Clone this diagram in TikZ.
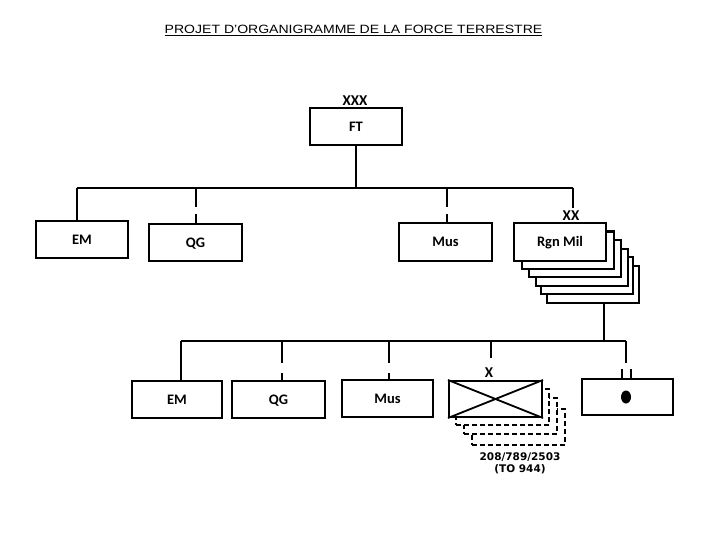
\documentclass[tikz,border=0pt]{standalone}
\usepackage{fontspec}
\setmainfont{Carlito}
\newfontfamily\titlefont{Liberation Sans}
\newfontfamily\smallfont{DejaVu Sans}
\usetikzlibrary{shapes.geometric}
\begin{document}
\begin{tikzpicture}[x=1pt,y=-1pt,
  unit/.style={draw, line width=2pt, fill=white, minimum width=92pt, minimum height=37pt, inner sep=0pt, text height=9.5pt, text depth=0pt, font=\bfseries\fontsize{14.5}{16}\selectfont},
  ghost/.style={unit, dash pattern=on 5pt off 3pt},
  conn/.style={line width=2pt},
  echelon/.style={inner sep=0pt, font=\bfseries\fontsize{15}{17}\selectfont},
  dot/.style={ellipse, fill=black, minimum width=10pt, minimum height=13pt, inner sep=0pt}
]
\useasboundingbox (0,0) rectangle (720,540);
% title
\node[inner sep=0pt, anchor=base] (title) at (353.5,34) {\titlefont\fontsize{12}{14}\selectfont\scalebox{1.17}[1]{\underline{PROJET D’ORGANIGRAMME DE LA FORCE TERRESTRE}}};

% top
\node[unit] (ft) at (356,126.5) {FT};
\node[echelon] (ftlab) at (355,101) {XXX};

% bus 1
\coordinate (b1L) at (77,188);
\coordinate (b1R) at (573,188);
\coordinate (b1QG) at (196,188);
\coordinate (b1Mus) at (447,188);
\coordinate (b1Rend) at (573,208);
\draw[conn] (ft.south) -- (ft.south |- b1L);
\draw[conn] (b1L) -- (b1R);

% level 1 boxes
\node[unit] (em) at (82,239.5) {EM};
\node[unit, minimum width=93pt] (qg) at (195.5,242.5) {QG};
\node[unit, minimum width=93pt, minimum height=38pt] (mus) at (445.5,242) {Mus};

% Rgn Mil stack
\node[unit] (rgn5) at (592.5,284) {};
\node[unit] (rgn4) at (587,275) {};
\node[unit] (rgn3) at (581.5,267) {};
\node[unit] (rgn2) at (575,258) {};
\node[unit] (rgn1) at (567.5,250) {};
\node[unit, minimum height=38pt] (rgn) at (560,242) {Rgn Mil};
\node[echelon] (rgnlab) at (571,216) {XX};

\draw[conn] (b1L) -- (b1L |- em.north);
\draw[conn, dash pattern=on 19pt off 7pt on 40pt] (b1QG) -- (b1QG |- qg.north);
\draw[conn, dash pattern=on 19pt off 7pt on 40pt] (b1Mus) -- (b1Mus |- mus.north);
\draw[conn] (b1R) -- (b1Rend);

% bus 2
\coordinate (j2) at (604,341);
\coordinate (b2L) at (181,341);
\coordinate (b2R) at (626,341);
\coordinate (b2QG) at (282,341);
\coordinate (b2Mus) at (389,341);
\coordinate (b2X) at (491,341);
\coordinate (b2Xend) at (491,358);
\coordinate (b2Rend) at (626,363);
\coordinate (dl) at (622,369);
\coordinate (dr) at (631,369);
\draw[conn] (j2 |- rgn5.south) -- (j2);
\draw[conn] (b2L) -- (b2R);

% level 2 boxes
\node[unit, minimum width=90pt] (em2) at (177,399.5) {EM};
\node[unit, minimum width=93pt] (qg2) at (278.5,399.5) {QG};
\node[unit, minimum width=91pt] (mus2) at (387.5,398.5) {Mus};

% brigade stack
\node[ghost, minimum width=93pt, minimum height=36pt] (x3) at (518,426.5) {};
\node[ghost, minimum width=93pt, minimum height=36pt] (x2) at (510.5,415.5) {};
\node[ghost, minimum width=93pt, minimum height=36pt] (x1) at (502.5,407) {};
\node[unit, minimum width=93pt, minimum height=36pt] (xb) at (495.5,399) {};
\draw[line width=1.8pt] (xb.north west) -- (xb.south east);
\draw[line width=1.8pt] (xb.south west) -- (xb.north east);
\node[echelon] (xlab) at (489,373) {X};
\node[inner sep=0pt, align=center, font=\smallfont\bfseries\fontsize{10.5}{12}\selectfont] (xnote) at (520,463) {208/789/2503\\(TO 944)};

% dot box
\node[unit, minimum width=91pt, minimum height=36pt] (dotbox) at (627.5,397) {};
\node[dot] (dotmark) at (626,397) {};

\draw[conn] (b2L) -- (b2L |- em2.north);
\draw[conn, dash pattern=on 22pt off 10pt on 30pt] (b2QG) -- (b2QG |- qg2.north);
\draw[conn, dash pattern=on 22pt off 10pt on 30pt] (b2Mus) -- (b2Mus |- mus2.north);
\draw[conn] (b2X) -- (b2Xend);
\draw[conn] (b2R) -- (b2Rend);
\draw[conn] (dl) -- (dl |- dotbox.north);
\draw[conn] (dr) -- (dr |- dotbox.north);
\end{tikzpicture}
\end{document}
